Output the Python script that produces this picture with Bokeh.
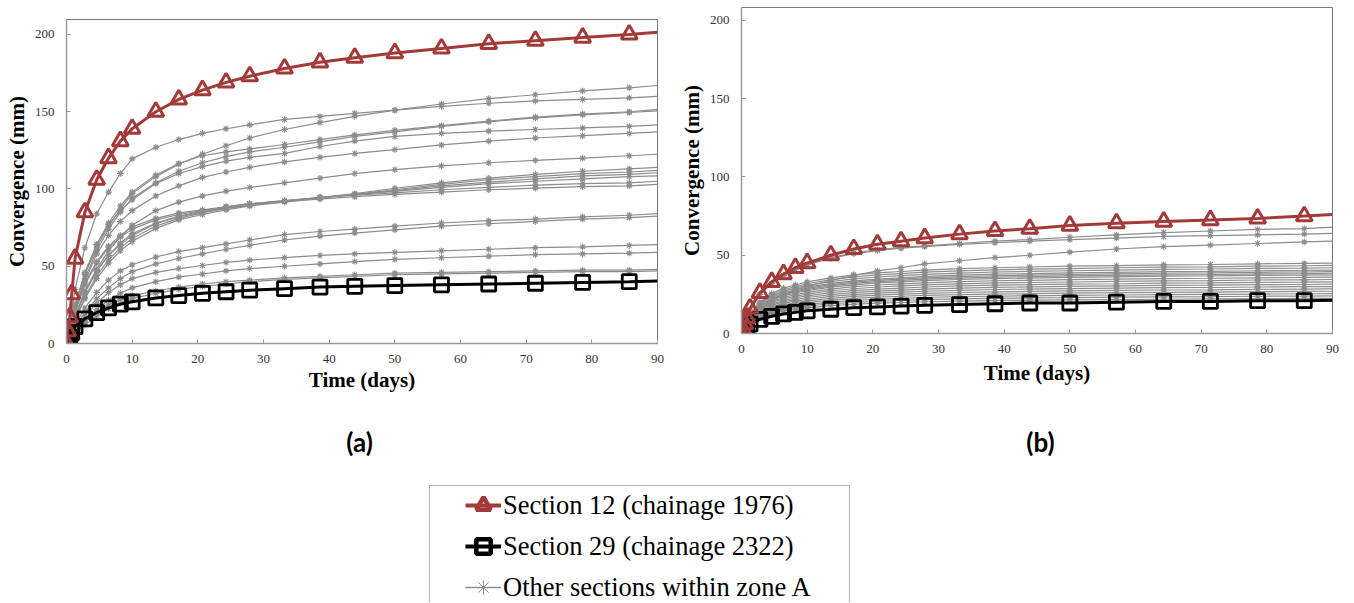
from bokeh.plotting import figure
from bokeh.models import Range1d, FixedTicker, Legend, LegendItem, Label, BoxAnnotation, Spacer
from bokeh.layouts import column, row
from bokeh.embed import file_html
from bokeh.resources import INLINE

# ---------------- data ----------------
TIME = [0, 0.2, 0.5, 0.8, 1.3, 2.8, 4.6, 6.4, 8.2, 10.0, 13.6, 17.1, 20.7, 24.3,
        27.9, 33.2, 38.6, 43.9, 50.0, 57.1, 64.3, 71.4, 78.6, 85.7, 90.0]
X_TICKS = [0, 10, 20, 30, 40, 50, 60, 70, 80, 90]
Y_TICKS = [0, 50, 100, 150, 200]
LABEL_12 = "Section 12 (chainage 1976)"
LABEL_29 = "Section 29 (chainage 2322)"
LABEL_OTHER = "Other sections within zone A"

# panel (a)
A_SEC12 = [0, 8, 17, 32, 55, 85, 106, 120, 131, 139, 150, 158, 164, 169, 173, 178, 182, 185, 188, 191, 194, 196, 198, 200, 201.5]
A_SEC29 = [0, 2, 4, 7, 11, 16, 20, 23, 25.5, 27, 29.5, 31, 32.5, 33.5, 34.5, 35.5, 36.5, 37, 37.5, 38, 38.5, 39, 39.5, 40, 40.5]
A_G01 = [0, 4, 10, 20, 35, 62, 84, 98, 110, 119.5, 127, 132, 136, 139, 141.5, 145, 147, 149, 151, 153.5, 155.5, 157, 158, 159, 160]
A_G02 = [0, 3, 7, 14, 25, 45, 62, 76, 87, 97, 108, 116, 122.5, 128, 133, 138.5, 143, 147, 151, 155, 158.5, 161, 163.5, 165.5, 167]
A_G03 = [0, 3, 7, 14, 25, 46, 64, 78, 89, 98, 109, 116.5, 121.5, 124, 126, 128.8, 132, 135, 138, 141, 144, 146.5, 148.5, 150, 151.5]
A_G04 = [0, 3, 6, 12, 22, 42, 60, 74, 85, 94, 104, 111.5, 117, 121, 124, 127, 130.5, 134, 137, 140.5, 143.5, 146, 148, 149.5, 150.5]
A_G05 = [0, 3, 7, 14, 24, 45, 64, 77, 86, 93, 103.5, 110, 114.5, 118, 120.5, 123, 127.5, 131, 134, 136, 137.5, 138.5, 139.5, 140.5, 141.5]
A_G06 = [0, 3, 6, 12, 21, 40, 58, 70, 79, 86, 95.5, 102, 107.5, 111, 114, 117.5, 120.5, 123, 125.5, 128.5, 131, 133, 134.5, 136, 137]
A_G07 = [0, 2.5, 5, 10, 18, 34, 48, 60, 69, 76.5, 86, 91.5, 95.5, 98.5, 101, 104, 107, 110, 112.5, 115, 117, 118.5, 120, 121.5, 122.5]
A_G08 = [0, 2, 4, 8, 15, 30, 44, 54, 62, 68, 76, 81, 84.5, 87.5, 89.5, 92, 94.5, 97, 100.5, 104, 107, 109.5, 111.5, 113, 114]
A_G09 = [0, 2, 4, 8, 15, 29, 42, 52, 60, 66, 74.5, 80, 83.5, 86.5, 89, 91.5, 94, 96.5, 99.5, 103, 106, 108, 110, 111, 112]
A_G10 = [0, 2, 5, 9, 17, 33, 47, 57, 64, 70, 77.5, 82, 85, 87.5, 89.5, 92, 94.5, 96.5, 99, 102, 104.5, 106.5, 108.5, 109.5, 110.5]
A_G11 = [0, 2, 5, 9, 17, 33, 47, 57, 65, 71, 78, 82.5, 85.5, 88, 90, 92.5, 94.5, 96.5, 98.5, 101, 103.5, 105, 106.5, 108, 108.5]
A_G12 = [0, 3, 6, 11, 20, 38, 52, 62, 69, 74, 80, 83.5, 86, 88.5, 90.5, 92.5, 94.5, 96, 97.5, 99.5, 101, 102.5, 103.5, 104, 105]
A_G13 = [0, 3, 6, 11, 21, 39, 53, 63, 70, 75.5, 81, 84.5, 86.5, 88.5, 90.5, 92, 93.5, 95, 96.5, 98, 99.5, 100.5, 101.5, 102, 103]
A_G14 = [0, 2, 4, 7, 12, 23, 33, 41, 47, 51, 56, 59.5, 62, 64.5, 67, 70.5, 72.5, 74, 76, 78, 79.5, 80.5, 82, 83, 84]
A_G15 = [0, 1.5, 3.5, 6, 11, 20, 29, 36, 42, 46.5, 51.5, 55, 58, 61, 63.5, 67, 69.5, 71.5, 73.5, 76, 77.5, 79, 80.5, 81.5, 82.5]
A_G16 = [0, 1.5, 3, 5.5, 10, 18, 26, 33, 38, 42, 46, 48.5, 50.5, 52.5, 54, 55.6, 57, 58, 59, 60, 61, 62, 62.5, 63.5, 64]
A_G17 = [0, 1, 2.5, 4.5, 8, 15, 22, 28, 32.5, 36, 40, 43, 45, 47, 48.5, 50, 51.5, 53, 54.5, 55.5, 56.5, 57.5, 58, 58.5, 59]
A_G18 = [0, 1, 2.5, 4.5, 8, 14, 20, 25, 28.5, 31, 34, 36.5, 38.5, 40, 41, 42.5, 43.5, 44.5, 45.5, 46, 46.5, 47, 47.5, 47.5, 48]
A_G19 = [0, 1, 2, 4, 7, 12, 18, 22.5, 26, 29, 32.5, 35, 37, 38.5, 40, 41.5, 42.5, 43.5, 44.5, 45, 45.5, 46, 46.5, 46.5, 47]
A_OTHERS = [A_G01, A_G02, A_G03, A_G04, A_G05, A_G06, A_G07, A_G08, A_G09, A_G10,
            A_G11, A_G12, A_G13, A_G14, A_G15, A_G16, A_G17, A_G18, A_G19]

# panel (b)
B_SEC12 = [0, 3, 6, 10, 16, 26, 33, 38, 42, 45, 50, 54, 57, 59, 61, 63.5, 65.5, 67, 69, 70.5, 71.5, 72.5, 73.5, 75, 76]
B_SEC29 = [0, 1, 2.5, 4, 6, 9, 11, 12.5, 13.5, 14.5, 15.5, 16.5, 17, 17.5, 18, 18.5, 19, 19.5, 19.5, 20, 20.5, 20.5, 21, 21, 21.3]
B_G01 = [0, 3, 6, 10, 15, 25, 32, 37, 41, 44, 48.5, 51.5, 53.5, 55, 56, 57.5, 59, 60, 61.5, 63, 64.5, 65.5, 66.5, 67, 68]
B_G02 = [0, 3, 6, 10, 15, 25, 32, 37, 41, 44, 48, 51, 53, 54.5, 55.5, 57, 58, 59, 60, 61, 62, 62.5, 63, 63.5, 64]
B_G03 = [0, 1.5, 3.5, 6, 9, 15, 21, 25, 28, 30, 34, 37, 40, 42, 44.5, 46.5, 48.5, 50, 52, 54, 55.5, 56.5, 57.5, 58.5, 59]
B_G04 = [0, 2.3, 4.5, 7.7, 12.2, 20, 25.5, 29, 31, 33, 35.5, 37.5, 38.7, 39.6, 40.5, 41.4, 42, 42.5, 43, 43.4, 43.9, 44.1, 44.5, 44.8, 45]
B_G05 = [0, 2, 4.3, 7.4, 11.7, 19.5, 24.8, 27.8, 30, 31.8, 34.4, 36.1, 37.4, 38.3, 39.2, 40, 40.7, 41.1, 41.5, 42, 42.4, 42.6, 43, 43.3, 43.5]
B_G06 = [0, 2.1, 4.2, 7.1, 11.3, 18.9, 23.9, 26.9, 29, 30.7, 33.2, 34.9, 36.1, 37, 37.8, 38.6, 39.3, 39.7, 40.1, 40.5, 41, 41.2, 41.6, 41.8, 42]
B_G07 = [0, 2, 4, 6.9, 10.9, 18.2, 23.1, 25.9, 27.9, 29.6, 32, 33.6, 34.8, 35.6, 36.5, 37.3, 37.9, 38.3, 38.7, 39.1, 39.5, 39.7, 40.1, 40.3, 40.5]
B_G08 = [0, 1.8, 3.8, 6.5, 10.4, 17.5, 22.3, 25.1, 27.1, 28.8, 31.2, 32.8, 34, 34.8, 35.6, 36.3, 36.9, 37.3, 37.7, 38.1, 38.5, 38.7, 39.1, 39.3, 39.5]
B_G09 = [0, 1.9, 3.9, 6.5, 10.4, 17.3, 21.9, 24.6, 26.6, 28.1, 30.4, 32, 33.1, 33.9, 34.7, 35.4, 36, 36.4, 36.8, 37.2, 37.5, 37.7, 38.1, 38.3, 38.5]
B_G10 = [0, 1.9, 3.8, 6.4, 10.1, 16.9, 21.4, 24, 25.9, 27.4, 29.6, 31.1, 32.3, 33, 33.8, 34.5, 35.1, 35.4, 35.8, 36.2, 36.6, 36.8, 37.1, 37.3, 37.5]
B_G11 = [0, 1.8, 3.6, 6.1, 9.7, 16.2, 20.5, 23, 24.8, 26.3, 28.4, 29.9, 31, 31.7, 32.4, 33.1, 33.7, 34, 34.4, 34.7, 35.1, 35.3, 35.6, 35.8, 36]
B_G12 = [0, 1.7, 3.5, 5.9, 9.3, 15.5, 19.7, 22.1, 23.8, 25.2, 27.3, 28.6, 29.7, 30.4, 31.1, 31.7, 32.3, 32.6, 32.9, 33.3, 33.6, 33.8, 34.2, 34.3, 34.5]
B_G13 = [0, 1.7, 3.3, 5.6, 8.9, 14.9, 18.8, 21.1, 22.8, 24.1, 26.1, 27.4, 28.4, 29, 29.7, 30.4, 30.9, 31.2, 31.5, 31.8, 32.2, 32.3, 32.7, 32.8, 33]
B_G14 = [0, 1.6, 3.2, 5.4, 8.5, 14.2, 18, 20.2, 21.7, 23, 24.9, 26.1, 27.1, 27.7, 28.4, 29, 29.5, 29.8, 30.1, 30.4, 30.7, 30.9, 31.2, 31.3, 31.5]
B_G15 = [0, 1.5, 3, 5.1, 8.1, 13.5, 17.1, 19.2, 20.7, 21.9, 23.7, 24.9, 25.8, 26.4, 27, 27.6, 28.1, 28.4, 28.7, 29, 29.3, 29.4, 29.7, 29.9, 30]
B_G16 = [0, 1.4, 2.9, 4.8, 7.7, 12.8, 16.2, 18.2, 19.7, 20.8, 22.5, 23.7, 24.5, 25.1, 25.7, 26.2, 26.6, 26.9, 27.2, 27.5, 27.8, 27.9, 28.2, 28.4, 28.5]
B_G17 = [0, 1.4, 2.7, 4.6, 7.3, 12.2, 15.4, 17.3, 18.6, 19.7, 21.3, 22.4, 23.2, 23.8, 24.3, 24.8, 25.2, 25.5, 25.8, 26.1, 26.3, 26.5, 26.7, 26.9, 27]
B_G18 = [0, 1.3, 2.6, 4.3, 6.9, 11.5, 14.5, 16.3, 17.6, 18.6, 20.1, 21.2, 21.9, 22.4, 23, 23.5, 23.8, 24.1, 24.4, 24.6, 24.9, 25, 25.2, 25.4, 25.5]
B_G19 = [0, 1.2, 2.4, 4.1, 6.5, 10.8, 13.7, 15.4, 16.6, 17.5, 19, 19.9, 20.6, 21.1, 21.6, 22.1, 22.4, 22.7, 22.9, 23.2, 23.4, 23.5, 23.8, 23.9, 24]
B_G20 = [0, 1.1, 2.3, 3.8, 6.1, 10.1, 12.8, 14.4, 15.5, 16.4, 17.8, 18.7, 19.4, 19.8, 20.3, 20.7, 21, 21.3, 21.5, 21.7, 21.9, 22.1, 22.3, 22.4, 22.5]
B_OTHERS = [B_G01, B_G02, B_G03, B_G04, B_G05, B_G06, B_G07, B_G08, B_G09, B_G10,
            B_G11, B_G12, B_G13, B_G14, B_G15, B_G16, B_G17, B_G18, B_G19, B_G20]

# ---------------- style ----------------
RED = "#A33A3A"
GRAY = "#8C8C8C"
SERIF = "Liberation Serif"


def make_panel(sec12, sec29, others, ymax, fh, bottom, right, tick_standoff, lab_x_standoff):
    p = figure(frame_width=591, frame_height=fh, title=None,
               x_range=Range1d(0, 90), y_range=Range1d(0, ymax),
               output_backend="svg", toolbar_location=None,
               min_border_left=66, min_border_right=right,
               min_border_top=0, min_border_bottom=bottom)
    p.xgrid.visible = False
    p.ygrid.visible = False
    p.outline_line_color = "#7a7a7a"
    p.outline_line_width = 1
    p.background_fill_color = "white"
    p.border_fill_color = "white"

    marker_t = TIME[:-1]
    for vals in others:
        p.line(TIME, vals, line_color=GRAY, line_width=1.2)
        p.scatter(marker_t, vals[:-1], marker="asterisk", size=6.5,
                  line_color=GRAY, line_width=1.1)
    p.line(TIME, sec29, line_color="black", line_width=3)
    p.scatter(marker_t, sec29[:-1], marker="square", size=14,
              line_color="black", line_width=2.8, fill_alpha=0)
    p.line(TIME, sec12, line_color=RED, line_width=3)
    p.scatter(marker_t, sec12[:-1], marker="triangle", size=16,
              line_color=RED, line_width=3, fill_alpha=0)

    p.xaxis.ticker = FixedTicker(ticks=X_TICKS)
    p.yaxis.ticker = FixedTicker(ticks=Y_TICKS)
    for ax in (p.xaxis, p.yaxis):
        ax.major_tick_in = 4
        ax.major_tick_out = 0
        ax.minor_tick_in = 0
        ax.minor_tick_out = 0
        ax.axis_line_color = "#9a9a9a"
        ax.axis_line_width = 1.5
        ax.major_tick_line_color = "#9a9a9a"
        ax.major_label_text_font = SERIF
        ax.major_label_text_font_size = "13px"
        ax.major_label_text_color = "#333333"
        ax.axis_label_text_font = SERIF
        ax.axis_label_text_font_style = "bold"
        ax.axis_label_text_font_size = "21px"
        ax.axis_label_text_color = "black"
    p.xaxis.axis_label = "Time (days)"
    p.yaxis.axis_label = "Convergence (mm)"
    p.xaxis.major_label_standoff = tick_standoff
    p.yaxis.major_label_standoff = 12
    p.xaxis.axis_label_standoff = lab_x_standoff
    p.yaxis.axis_label_standoff = 3
    return p


pa = make_panel(A_SEC12, A_SEC29, A_OTHERS, 209.7, 324, 50, 18, 11, 2)
pb = make_panel(B_SEC12, B_SEC29, B_OTHERS, 208.3, 326, 60, 20, 11, 5)

# ---------------- bottom strip: panel letters and legend ----------------
STRIP_H = 208
pl = figure(width=1352, height=STRIP_H, x_range=Range1d(0, 1352), y_range=Range1d(STRIP_H, 0),
            output_backend="svg", toolbar_location=None, min_border=0, title=None,
            x_axis_type=None, y_axis_type=None, outline_line_color=None)
pl.xgrid.visible = False
pl.ygrid.visible = False

for txt, xx in (("(a)", 359), ("(b)", 1040)):
    pl.add_layout(Label(x=xx, y=47, text=txt, text_font="Lato", text_font_style="bold",
                        text_font_size="26px", text_align="center", text_baseline="middle",
                        text_color="black"))

pl.add_layout(BoxAnnotation(left=429, right=849, top=91, bottom=225,
                            fill_alpha=0, line_color="black", line_width=1))

# legend-only renderers, kept outside the visible range
OFF = [-1000]
r_l12 = pl.line(OFF, OFF, line_color=RED, line_width=4)
r_s12 = pl.scatter(OFF, OFF, marker="triangle", line_color=RED, line_width=4.5, fill_alpha=0)
r_l29 = pl.line(OFF, OFF, line_color="black", line_width=4)
r_s29 = pl.scatter(OFF, OFF, marker="square", line_color="black", line_width=4.5, fill_alpha=0)
r_lo = pl.line(OFF, OFF, line_color=GRAY, line_width=1.5)
r_so = pl.scatter(OFF, OFF, marker="asterisk", line_color=GRAY, line_width=1)

legend = Legend(items=[LegendItem(label=LABEL_12, renderers=[r_l12, r_s12]),
                       LegendItem(label=LABEL_29, renderers=[r_l29, r_s29]),
                       LegendItem(label=LABEL_OTHER, renderers=[r_lo, r_so])],
                location=(465, -5), padding=0, margin=0, spacing=1,
                glyph_width=36, glyph_height=40, label_height=27, label_standoff=2,
                label_text_font=SERIF, label_text_font_size="26.5px",
                label_text_color="black",
                border_line_color=None, background_fill_alpha=0)
pl.add_layout(legend)

layout = column(row(column(Spacer(height=19), pa), column(Spacer(height=7), pb)), pl)
open("out.html", "w").write(file_html(layout, INLINE))
